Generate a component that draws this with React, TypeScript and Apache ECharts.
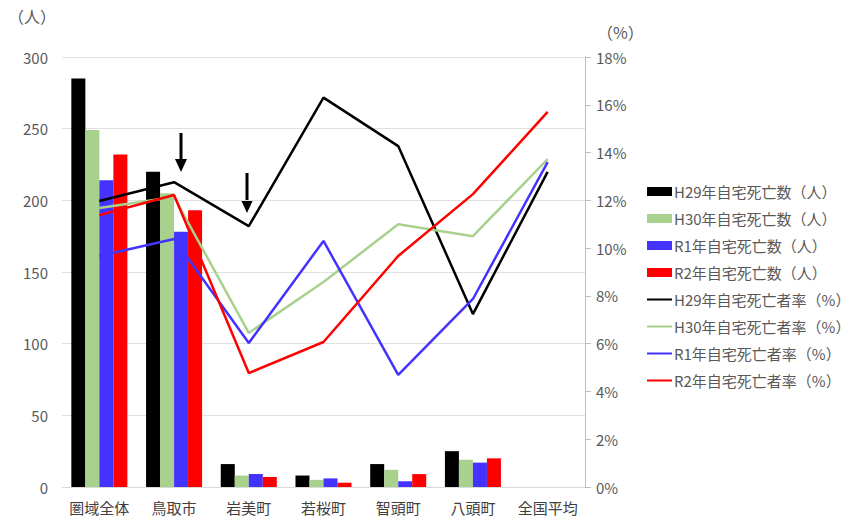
import React, { useEffect, useRef } from "react";
import * as echarts from "echarts";

const categories = ["圏域全体", "鳥取市", "岩美町", "若桜町", "智頭町", "八頭町", "全国平均"];

const deathsH29 = [285, 220, 16, 8, 16, 25, null];
const deathsH30 = [249, 205, 8, 5, 12, 19, null];
const deathsR1 = [214, 178, 9, 6, 4, 17, null];
const deathsR2 = [232, 193, 7, 3, 9, 20, null];

const rateH29 = [11.97, 12.76, 10.92, 16.3, 14.27, 7.24, 13.19];
const rateH30 = [11.68, 12.14, 6.45, 8.58, 11.0, 10.5, 13.73];
const rateR1 = [9.67, 10.38, 6.03, 10.3, 4.69, 7.87, 13.6];
const rateR2 = [11.38, 12.22, 4.77, 6.07, 9.67, 12.26, 15.7];

const FONT = "'Noto Sans CJK JP', 'Noto Sans', sans-serif";
const TXT = "#595959";

function arrow(x: number, y1: number, y2: number) {
  return {
    type: "group",
    children: [
      { type: "line", shape: { x1: x, y1, x2: x, y2: y2 - 10 }, style: { stroke: "#000", lineWidth: 3 } },
      {
        type: "polygon",
        shape: { points: [[x - 6, y2 - 13], [x + 6, y2 - 13], [x, y2]] },
        style: { fill: "#000" },
      },
    ],
  };
}

export default function App() {
  const ref = useRef<HTMLDivElement>(null);
  useEffect(() => {
    if (!ref.current) return;
    const chart = echarts.init(ref.current, null, { renderer: "svg" });
    const barNames = ["H29年自宅死亡数（人）", "H30年自宅死亡数（人）", "R1年自宅死亡数（人）", "R2年自宅死亡数（人）"];
    const lineNames = ["H29年自宅死亡者率（%）", "H30年自宅死亡者率（%）", "R1年自宅死亡者率（%）", "R2年自宅死亡者率（%）"];
    const colors = ["#000000", "#a9d18e", "#4433ff", "#ff0000"];
    const barData = [deathsH29, deathsH30, deathsR1, deathsR2];
    const lineData = [rateH29, rateH30, rateR1, rateR2];
    chart.setOption({
      animation: false,
      textStyle: { fontFamily: FONT },
      grid: { left: 62, right: 267, top: 57, bottom: 33 },
      legend: {
        orient: "vertical",
        left: 641,
        top: 179,
        itemWidth: 25,
        itemHeight: 9,
        itemGap: 12,
        textStyle: { fontSize: 15, color: TXT, fontFamily: FONT, padding: [0, 0, 0, -3] },
        data: [
          ...barNames.map((n) => ({ name: n, icon: "rect" })),
          ...lineNames.map((n) => ({ name: n, itemStyle: { opacity: 0 } })),
        ],
      },
      xAxis: {
        type: "category",
        data: categories,
        axisLine: { lineStyle: { color: "#d9d9d9", width: 1 } },
        axisTick: { show: false },
        axisLabel: { fontSize: 15, color: "#404040", margin: 13, fontFamily: FONT, interval: 0, hideOverlap: false },
      },
      yAxis: [
        {
          type: "value",
          min: 0,
          max: 300,
          interval: 50,
          axisLine: { show: false },
          axisTick: { show: false },
          axisLabel: { fontSize: 15, color: TXT, margin: 14, fontFamily: FONT },
          splitLine: { lineStyle: { color: "#e0e0e0", width: 1 } },
        },
        {
          type: "value",
          min: 0,
          max: 18,
          interval: 2,
          position: "right",
          axisLine: { show: true, lineStyle: { color: "#bfbfbf" } },
          axisTick: { show: true, length: 6, lineStyle: { color: "#bfbfbf" } },
          axisLabel: { fontSize: 15, color: TXT, margin: 11, formatter: "{value}%", fontFamily: FONT },
          splitLine: { show: false },
        },
      ],
      series: [
        ...barNames.map((n, i) => ({
          name: n,
          type: "bar",
          yAxisIndex: 0,
          data: barData[i],
          barGap: "0%",
          barCategoryGap: "25%",
          itemStyle: { color: colors[i] },
        })),
        ...lineNames.map((n, i) => ({
          name: n,
          type: "line",
          yAxisIndex: 1,
          data: lineData[i],
          symbol: "none",
          lineStyle: { color: colors[i], width: 2.5 },
          itemStyle: { color: colors[i] },
        })),
      ],
      graphic: [
        { type: "text", left: 8, top: 8, style: { text: "（人）", fontSize: 16, fill: TXT, fontFamily: FONT } },
        { type: "text", left: 597, top: 24, style: { text: "（%）", fontSize: 16, fill: TXT, fontFamily: FONT } },
        arrow(181, 133, 172),
        arrow(247, 173, 213),
      ],
    });
    return () => chart.dispose();
  }, []);
  return <div ref={ref} style={{ width: 852, height: 520, position: "absolute", left: 0, top: 0 }} />;
}
